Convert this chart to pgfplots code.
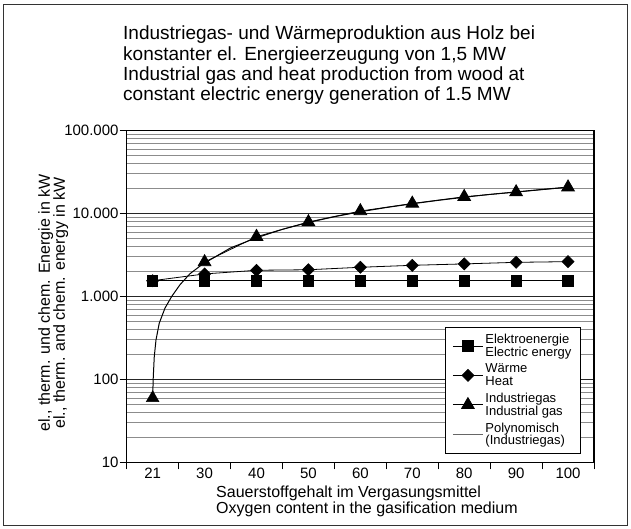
\documentclass[border=0pt]{standalone}
\usepackage{fontspec}
\setmainfont{Liberation Sans}
\usepackage{pgfplots}
\pgfplotsset{compat=1.18}

\begin{document}
\begin{tikzpicture}[x=1pt,y=1pt]
\path[use as bounding box] (-126.7,-66.5) rectangle (504.3,462.5);
\draw[line width=1pt,black!80] (-123,-63) rectangle (500.3,458);
\begin{axis}[
  at={(0,0)}, anchor=south west,
  scale only axis, width=467.3pt, height=332pt,
  ymode=log, ymin=10, ymax=100000,
  xmin=-0.5, xmax=8.5,
  xtick={-0.5,0.5,...,8.5}, xticklabels={},
  extra x ticks={0,...,8},
  extra x tick labels={21,30,40,50,60,70,80,90,100},
  extra x tick style={major tick length=0pt},
  xticklabel style={yshift=-4pt},
  ytick={10,100,1000,10000,100000},
  yticklabels={10,100,1.000,10.000,100.000},
  tick align=outside, tick pos=left,
  major tick length=7pt, minor tick length=0pt,
  ymajorgrids, yminorgrids,
  major grid style={black!85, line width=0.9pt},
  minor grid style={black!45, line width=0.8pt},
  axis line style={line width=1.1pt},
  tick style={black, line width=0.9pt},
  ticklabel style={font=\fontsize{15}{16}\selectfont, inner sep=1pt},
  legend style={at={(0.972,0.409)}, anchor=north east, draw=black, line width=1pt,
    fill=white, font=\fontsize{13}{12.5}\selectfont, row sep=2.3pt,
    cells={align=left}, inner xsep=7pt, inner ysep=5pt},
  legend cell align=left,
  legend image code/.code={\draw[mark repeat=2,mark phase=2] plot coordinates {(0pt,0pt)(15pt,0pt)(30pt,0pt)};},
]
\addplot[black, line width=0.8pt, mark=square*, mark size=5.2pt, mark options={solid, fill=black}] coordinates {
  (0,1550) (1,1550) (2,1550) (3,1550) (4,1550) (5,1550) (6,1550) (7,1550) (8,1550)
};
\addlegendentry{Elektroenergie\\Electric energy}
\addplot[black, line width=0.8pt, mark=square*, mark size=4.2pt, mark options={solid, fill=black, rotate=45}] coordinates {
  (0,1550) (1,1870) (2,2070) (3,2100) (4,2250) (5,2375) (6,2470) (7,2580) (8,2630)
};
\addlegendentry{Wärme\\Heat}
\addplot[black, line width=0.8pt, mark=triangle*, mark size=7.3pt, mark options={solid, fill=black}] coordinates {
  (1,2600) (2,5250) (3,7900) (4,10700) (5,13200) (6,15900) (7,18100) (8,20700)
};
\addlegendentry{Industriegas\\Industrial gas}
\addplot[black, line width=1pt, no marks, legend image post style={black!60}] coordinates {
  (0,60) (0.012,108) (0.031,188) (0.064,299) (0.127,477) (0.237,724) (0.366,1000)
  (0.526,1385) (0.718,1880) (0.948,2417) (1,2530) (1.5,3850) (2,5100) (2.5,6450)
  (3,7800) (3.5,9150) (4,10500) (4.5,11800) (5,13100) (5.5,14400) (6,15700)
  (6.5,17000) (7,18200) (7.5,19500) (8,20800)
};
\addlegendentry{Polynomisch\\(Industriegas)}
\addplot[forget plot, only marks, mark=triangle*, mark size=7.3pt, mark options={fill=black, draw=black}] coordinates {(0,60)};
\end{axis}
\begin{scope}[every node/.style={inner sep=0pt, font=\fontsize{19}{20}\selectfont}]
\node[anchor=base west] at (-3.7,422.5) {Industriegas- und Wärmeproduktion aus Holz bei};
\node[anchor=base west] at (-3.7,402) {konstanter el. Energieerzeugung von 1,5 MW};
\node[anchor=base west] at (-3.7,382) {Industrial gas and heat production from wood at};
\node[anchor=base west] at (-3.7,362) {constant electric energy generation of 1.5 MW};
\end{scope}
\begin{scope}[every node/.style={inner sep=0pt, font=\fontsize{16}{16}\selectfont}]
\node[anchor=base west] at (89.3,-35) {Sauerstoffgehalt im Vergasungsmittel};
\node[anchor=base west] at (89.3,-51) {Oxygen content in the gasification medium};
\node[anchor=base, rotate=90] at (-76.7,159.5) {el., therm. und chem. Energie in kW};
\node[anchor=base, rotate=90] at (-61.7,159.5) {el., therm. and chem. energy in kW};
\end{scope}
\end{tikzpicture}
\end{document}
